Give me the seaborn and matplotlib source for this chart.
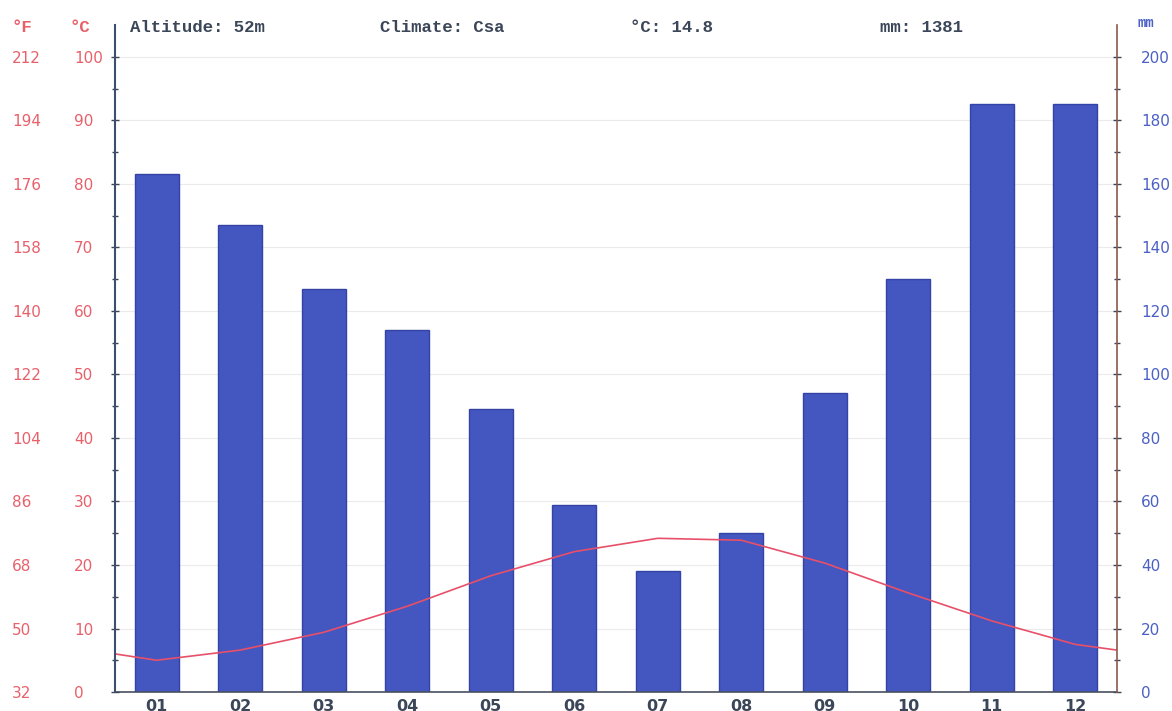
import numpy as np
import pandas as pd
import matplotlib
matplotlib.use("Agg")
import matplotlib.pyplot as plt
import seaborn as sns

# ==============================
# DATA
# ==============================
months = ["01", "02", "03", "04", "05", "06", "07", "08", "09", "10", "11", "12"]
precip_mm = [163, 147, 127, 114, 89, 59, 38, 50, 94, 130, 185, 185]
temp_c = [5.0, 6.6, 9.4, 13.5, 18.3, 22.1, 24.2, 23.9, 20.3, 15.6, 11.2, 7.5]
temp_edges = [6.0, 6.6]  # curve value at left / right border of the plot

c_ticks = [0, 10, 20, 30, 40, 50, 60, 70, 80, 90, 100]
f_ticks = [32, 50, 68, 86, 104, 122, 140, 158, 176, 194, 212]
mm_ticks = [0, 20, 40, 60, 80, 100, 120, 140, 160, 180, 200]

header = ["Altitude: 52m", "Climate: Csa", "°C: 14.8", "mm: 1381"]

# ==============================
# STYLE
# ==============================
sns.set_style("white")
plt.rcParams["font.family"] = ["DejaVu Sans"]

RED = "#e8606a"
BLUE = "#4a60c4"
BAR = "#4456bf"
BAR_EDGE = "#3344a6"
DARK = "#3b4658"

fig = plt.figure(figsize=(11.72, 7.11), dpi=100)
ax = fig.add_axes([0.0981, 0.0267, 0.855, 0.938])

# bars -> precipitation (right axis)
sns.barplot(x=months, y=precip_mm, ax=ax, color=BAR, edgecolor=BAR_EDGE,
            linewidth=1.0, width=0.53, saturation=1)
ax.set_xlim(-0.5, 11.5)
ax.set_ylim(0, 210)

# line -> temperature (left axis); twinx first, it resets tick sides
axt = ax.twinx()
line_x = [-0.5] + list(range(len(months))) + [11.5]
line_y = [temp_edges[0]] + temp_c + [temp_edges[1]]
sns.lineplot(x=line_x, y=line_y, ax=axt, color="#e8506a", linewidth=1.2,
             sort=False)
axt.set_ylim(0, 105)

# mm axis on the right
ax.yaxis.tick_right()
ax.set_yticks(mm_ticks)
ax.set_yticks(np.arange(10, 210, 20), minor=True)
ax.tick_params(axis="y", which="major", direction="inout", length=6, width=1,
               color=DARK, pad=14.4, labelsize=11, labelcolor=BLUE)
ax.tick_params(axis="y", which="minor", direction="inout", length=4, width=1,
               color=DARK)
ax.tick_params(axis="x", length=0, pad=5, labelsize=11.5, labelcolor=DARK)
for lbl in ax.get_xticklabels():
    lbl.set_fontweight("bold")
ax.set_xlabel("")
ax.set_ylabel("")
ax.grid(axis="y", color="#ebebeb", linewidth=0.8)
ax.set_axisbelow(True)

# degree C axis on the left
axt.yaxis.tick_left()
axt.set_yticks(c_ticks)
axt.set_yticks(np.arange(5, 100, 10), minor=True)
axt.tick_params(axis="y", which="major", direction="inout", length=6, width=1,
                color=DARK, pad=26.6, labelsize=11, labelcolor=RED)
axt.tick_params(axis="y", which="minor", direction="inout", length=4, width=1,
                color=DARK)
for lbl in axt.get_yticklabels():
    lbl.set_horizontalalignment("left")
axt.set_ylabel("")

# Fahrenheit column
axf = axt.secondary_yaxis(-0.1028, functions=(lambda c: c * 9 / 5 + 32,
                                               lambda f: (f - 32) * 5 / 9))
axf.set_yticks(f_ticks)
axf.tick_params(axis="y", length=0, pad=0, labelsize=11, labelcolor=RED)
for lbl in axf.get_yticklabels():
    lbl.set_horizontalalignment("left")
axf.spines["left"].set_visible(False)

# spines
for a in (ax, axt):
    a.spines["top"].set_visible(False)
axt.spines["left"].set_color("#3d4f6e")
axt.spines["left"].set_linewidth(1.5)
axt.spines["right"].set_color("#8a5a48")
axt.spines["right"].set_linewidth(1.2)
ax.spines["right"].set_visible(False)
ax.spines["left"].set_visible(False)
axt.spines["bottom"].set_visible(False)
ax.spines["bottom"].set_color("#4a5060")
ax.spines["bottom"].set_linewidth(1.2)

# header row
mono = dict(family="Liberation Mono", fontweight="bold", fontsize=12.5,
            va="center")
fig.text(12 / 1172, 1 - 27 / 711, "°F", color=RED, **mono)
fig.text(70 / 1172, 1 - 27 / 711, "°C", color=RED, **mono)
for xp, txt in zip([130, 380, 630, 880], header):
    fig.text(xp / 1172, 1 - 27 / 711, txt, color=DARK, **mono)
fig.text(1138 / 1172, 1 - 23 / 711, "mm", color=BLUE, family="Liberation Mono",
         fontweight="bold", fontsize=10, va="center")

fig.savefig("out.png", dpi=100)
